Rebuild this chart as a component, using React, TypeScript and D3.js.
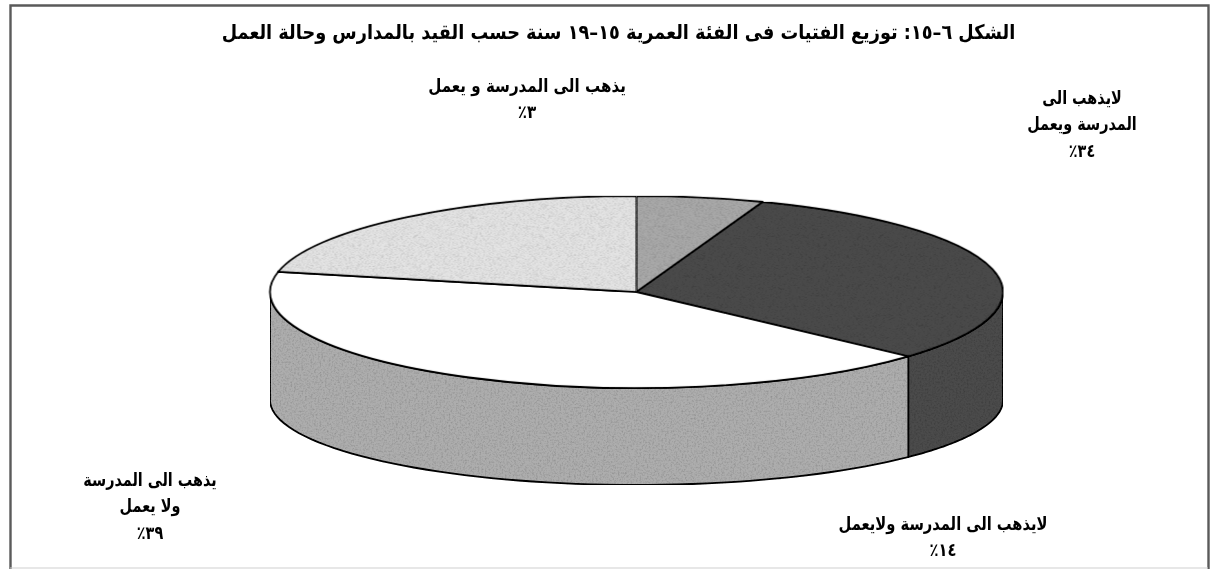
import React from "react";
import * as d3 from "d3";

const W = 1212, H = 569;
const titleText = "الشكل ٦–١٥: توزيع الفتيات فى الفئة العمرية ١٥–١٩ سنة حسب القيد بالمدارس وحالة العمل";
// Slice shares as drawn (clockwise from 12 o'clock)
const sliceShares = [5.6, 31.1, 41.7, 21.6];
const labelLines = [
  ["يذهب الى المدرسة و يعمل", "٣٪"],
  ["لايذهب الى", "المدرسة ويعمل", "٣٤٪"],
  ["لايذهب الى المدرسة ولايعمل", "١٤٪"],
  ["يذهب الى المدرسة", "ولا يعمل", "٣٩٪"],
];

// layout and styling
const topColors = ["#a9a9a9", "#4c4c4c", "#ffffff", "#e4e4e4"];
const wallColors = ["#a9a9a9", "#4c4c4c", "#adadad", "#e4e4e4"];
const labelLayout = [
  { x: 527, y: 91.5, sx: 1.08 },
  { x: 1082, y: 103.5, sx: 1.03 },
  { x: 943, y: 529.5, sx: 1.05 },
  { x: 150, y: 485.5, sx: 1.03 },
];
const cx = 636.5, rx = 366.5;
const topCy = 292, topRy = 96;
const botCy = 400, botRy = 85;

function wallPath(a: number, b: number) {
  const ts = d3.range(0, 61).map((i) => a + ((b - a) * i) / 60);
  const pts: [number, number][] = [
    ...ts.map((t) => [cx + rx * Math.sin(t), topCy - topRy * Math.cos(t)] as [number, number]),
    ...ts.slice().reverse().map((t) => [cx + rx * Math.sin(t), botCy - botRy * Math.cos(t)] as [number, number]),
  ];
  return d3.line()(pts) + "Z";
}

export default function App() {
  const arcs = d3.pie<number>().sort(null)(sliceShares);
  const arc = d3.arc<d3.PieArcDatum<number>>().innerRadius(0).outerRadius(rx);
  const font = "'DejaVu Sans', sans-serif";
  return (
    <svg width={W} height={H} style={{ position: "absolute", left: 0, top: 0, background: "#fff" }}>
      <defs>
        <filter id="grain" x="0" y="0" width="100%" height="100%">
          <feTurbulence type="fractalNoise" baseFrequency="0.55" numOctaves="2" seed="4" result="n" />
          <feColorMatrix in="n" type="matrix" values="0 0 0 0 0  0 0 0 0 0  0 0 0 0 0  0 0 0 0.7 -0.3" result="m" />
          <feComposite in="m" in2="SourceGraphic" operator="in" result="c" />
          <feMerge><feMergeNode in="SourceGraphic" /><feMergeNode in="c" /></feMerge>
        </filter>
        <filter id="soft"><feGaussianBlur stdDeviation="0.4" /></filter>
      </defs>
      <path d="M10.5 569V5.5H1208.5V569" fill="none" stroke="#5a5a5a" strokeWidth={2.4} />
      <path d="M10 568H1208" fill="none" stroke="#cfcfcf" strokeWidth={1} />
      <g filter="url(#soft)">
        {arcs.map((d, i) => {
          const a = Math.max(d.startAngle, Math.PI / 2);
          const b = Math.min(d.endAngle, (3 * Math.PI) / 2);
          if (b <= a) return null;
          return (
            <path key={i} d={wallPath(a, b)} fill={wallColors[i]} stroke="#000" strokeWidth={1.8}
              filter="url(#grain)" />
          );
        })}
        <g transform={`translate(${cx},${topCy}) scale(1,${topRy / rx})`}>
          {arcs.map((d, i) => (
            <path key={i} d={arc(d) as string} fill={topColors[i]} stroke="#000" strokeWidth={1.8}
              style={{ vectorEffect: "non-scaling-stroke" }}
              filter={i === 2 ? undefined : "url(#grain)"} />
          ))}
        </g>
      </g>
      <text transform="translate(618.5,39) scale(1.143,1.3)" textAnchor="middle" direction="rtl"
        fontFamily={font} fontWeight="bold" fontSize={15.5} fill="#000" filter="url(#soft)">{titleText}</text>
      {labelLines.map((lines, i) =>
        lines.map((l, j) => (
          <text key={`${i}-${j}`}
            transform={`translate(${labelLayout[i].x},${labelLayout[i].y + j * 26.5}) scale(${labelLayout[i].sx},1.3)`}
            textAnchor="middle" direction="rtl" fontFamily={font} fontWeight="bold" fontSize={14}
            fill="#000" filter="url(#soft)">{l}</text>
        ))
      )}
    </svg>
  );
}
